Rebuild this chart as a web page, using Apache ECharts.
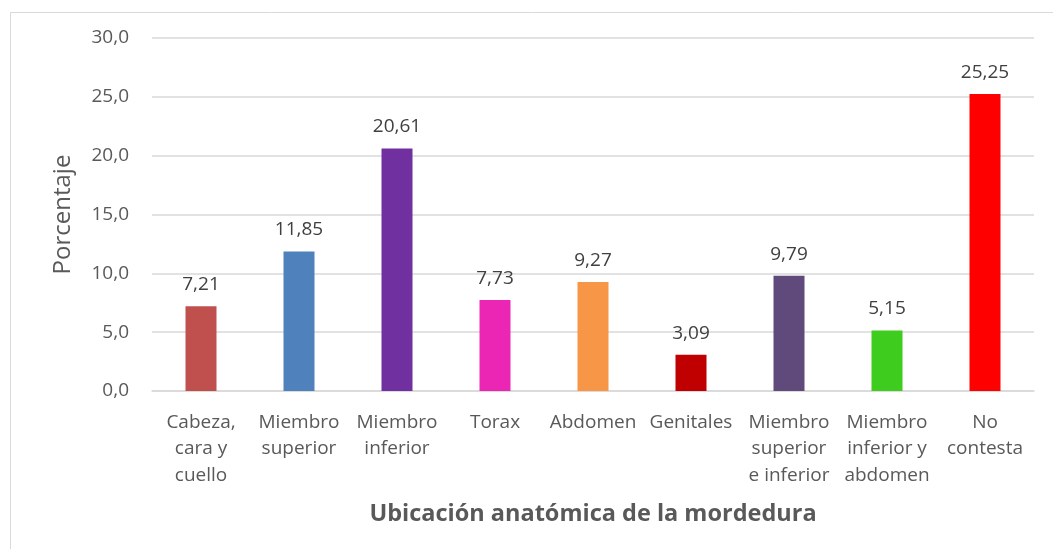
<!DOCTYPE html>
<html>
<head>
<meta charset="utf-8">
<script src="https://cdn.jsdelivr.net/npm/echarts@6/dist/echarts.min.js"></script>
<style>
  html, body { margin: 0; padding: 0; background: #fff; }
  #chart { width: 1053px; height: 549px; }
</style>
</head>
<body>
<div id="chart"></div>
<script>
const categories = [
  'Cabeza,\ncara y\ncuello', 'Miembro\nsuperior', 'Miembro\ninferior', 'Torax', 'Abdomen',
  'Genitales', 'Miembro\nsuperior\ne inferior', 'Miembro\ninferior y\nabdomen', 'No\ncontesta'
]
const values = [7.21, 11.85, 20.61, 7.73, 9.27, 3.09, 9.79, 5.15, 25.25]
const barColors = ['#C0504D', '#4F81BD', '#7030A0', '#EC26B4', '#F79646', '#C00000', '#604A7B', '#3ECC1F', '#FF0000']

const font = '"Open Sans", "Noto Sans", sans-serif'
const chart = echarts.init(document.getElementById('chart'))

chart.setOption({
  backgroundColor: '#fff',
  animation: false,
  graphic: [{
    type: 'rect',
    shape: { x: 10.5, y: 12.5, width: 1100, height: 600 },
    style: { fill: 'none', stroke: '#d9d9d9', lineWidth: 1 },
    silent: true
  }],
  grid: { left: 152, right: 19, top: 38, bottom: 158 },
  xAxis: {
    type: 'category',
    data: categories,
    name: 'Ubicación anatómica de la mordedura',
    nameLocation: 'middle',
    nameGap: 111,
    nameTextStyle: { fontFamily: font, fontSize: 23.5, fontWeight: 'bold', color: '#595959' },
    axisLine: { lineStyle: { color: '#d9d9d9', width: 1.5 } },
    axisTick: { show: false },
    axisLabel: {
      interval: 0,
      margin: 18,
      fontFamily: font,
      fontSize: 19,
      lineHeight: 26.5,
      color: '#595959'
    }
  },
  yAxis: {
    type: 'value',
    min: 0,
    max: 30,
    interval: 5,
    name: 'Porcentaje',
    nameLocation: 'middle',
    nameGap: 77,
    nameTextStyle: { fontFamily: font, fontSize: 24, color: '#595959' },
    axisLine: { show: false },
    axisTick: { show: false },
    axisLabel: {
      margin: 23,
      fontFamily: font,
      fontSize: 19,
      color: '#595959',
      formatter: v => v.toFixed(1).replace('.', ',')
    },
    splitLine: { lineStyle: { color: '#d9d9d9', width: 1.5 } }
  },
  series: [{
    type: 'bar',
    barWidth: 31,
    data: values.map((v, i) => ({ value: v, itemStyle: { color: barColors[i] } })),
    label: {
      show: true,
      position: 'top',
      distance: 12,
      fontFamily: font,
      fontSize: 19,
      color: '#404040',
      formatter: p => p.value.toFixed(2).replace('.', ',')
    }
  }]
})
</script>
</body>
</html>
